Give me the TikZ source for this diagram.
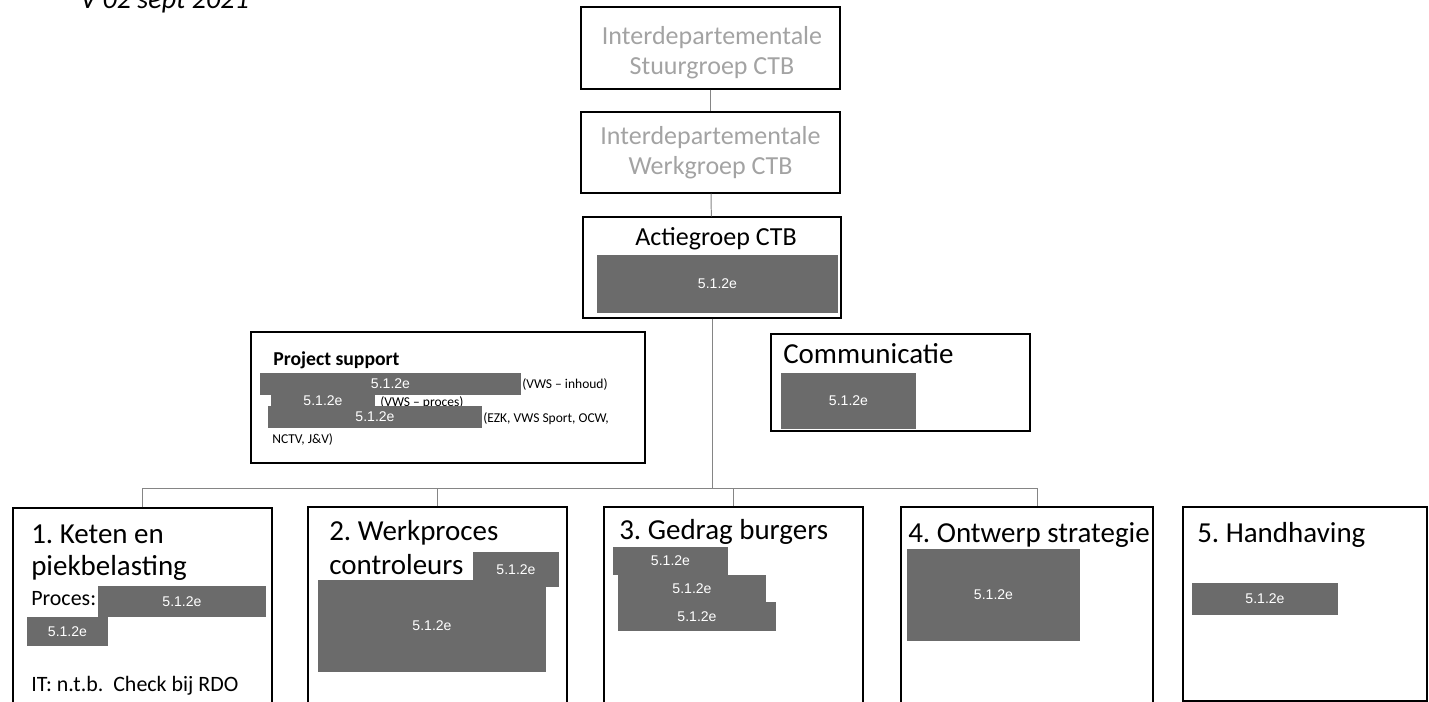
\documentclass[tikz,border=0pt]{standalone}
\usepackage{fontspec}
\setmainfont{Carlito}
\newfontfamily\redfont{Liberation Sans}
\definecolor{RedactGrey}{HTML}{6B6B6B}
\definecolor{PaleText}{HTML}{A3A3A3}
\definecolor{LinkGrey}{HTML}{858585}
\usetikzlibrary{positioning,fit}

\begin{document}
\frenchspacing
\begin{tikzpicture}[x=0.025cm,y=-0.025cm,
          wh/.style 2 args={minimum width=#1*0.025cm,minimum height=#2*0.025cm},
          box/.style={draw=black,line width=1pt,inner sep=0pt},
          topbox/.style={box,text=PaleText,align=center,
                         font=\fontsize{18.5}{21.5}\selectfont},
          redact/.style={fill=RedactGrey,inner sep=0pt,text=white,
                         font=\redfont\fontsize{10}{10}\selectfont},
          ttl/.style={anchor=base west,inner sep=0pt,
                      font=\fontsize{20.6}{23}\selectfont},
          note/.style={anchor=base west,inner sep=0pt,
                       font=\fontsize{15.6}{18}\selectfont},
          small/.style={anchor=base west,inner sep=0pt,
                        font=\fontsize{9.6}{11}\selectfont},
          link/.style={draw=LinkGrey,line width=0.7pt}]
        \useasboundingbox (0,0) rectangle (1429,702);
        \node[anchor=base west,inner sep=0pt,font=\itshape\fontsize{20}{22}\selectfont]
            (ver) at (80,9) {V 02 sept 2021};
        % top of the chain
        \node[box,wh={259}{82}] (stuur) at (710.5,48) {};
        \node[text=PaleText,align=center,inner sep=0pt,font=\fontsize{18.5}{21.5}\selectfont]
            (stuur-t) at (712,53) {Interdepartementale\\Stuurgroep CTB};
        \node[topbox,wh={259}{81}] (werk) at (710.5,152.5) {Interdepartementale\\Werkgroep CTB};
        \node[box,fit={(583,217) (841,318)}] (actie) {};
        \node[ttl,anchor=base,font=\fontsize{18.5}{21}\selectfont] (actie-t) at (716,245) {Actiegroep CTB};
        \node[redact,wh={241}{58}] (actie-r) at (717.5,284) {5.1.2e};
        % support and communication
        \node[box,fit={(251,332) (645,463)}] (ps) {};
        \node[anchor=base west,inner sep=0pt,font=\bfseries\fontsize{14}{16}\selectfont]
            (ps-t) at (273,365) {Project support};
        \node[redact,wh={261}{22}] (ps-r1) at (390.5,384) {5.1.2e};
        \node[small] (ps-a) at (522,388) {(VWS -- inhoud)};
        \node[redact,wh={104}{12}] (ps-r2) at (323,401) {5.1.2e};
        \node[small] (ps-b) at (380,406) {(VWS -- proces)};
        \node[redact,wh={214}{22}] (ps-r3) at (375,417) {5.1.2e};
        \node[small] (ps-c) at (483,422) {(EZK, VWS Sport, OCW,};
        \node[small] (ps-d) at (272,443) {NCTV, J\&V)};
        \node[box,fit={(771,334) (1030,431)}] (com) {};
        \node[ttl] (com-t) at (783,363) {Communicatie};
        \node[redact,wh={135}{56}] (com-r) at (848.5,401) {5.1.2e};
        % the five work streams
        \node[box,fit={(13,508) (272,720)}] (k1) {};
        \node[box,fit={(308,507) (567,720)}] (k2) {};
        \node[box,fit={(604,507) (863,720)}] (k3) {};
        \node[box,fit={(901,507) (1153,720)}] (k4) {};
        \node[box,fit={(1183,507) (1427,701)}] (k5) {};
        \node[ttl] (k1-t) at (31,543) {1. Keten en};
        \node[ttl] (k1-u) at (31,575) {piekbelasting};
        \node[note] (k1-p) at (31,605) {Proces:};
        \node[redact,wh={168}{31}] (k1-r1) at (182,601.5) {5.1.2e};
        \node[redact,wh={81}{29}] (k1-r2) at (67.5,631.5) {5.1.2e};
        \node[note] (k1-it) at (31,691) {IT: n.t.b.\ \ Check bij RDO};
        \node[ttl] (k2-t) at (329,540) {2. Werkproces};
        \node[ttl] (k2-u) at (329,574) {controleurs};
        \node[redact,wh={228}{92}] (k2-r2) at (432,626) {5.1.2e};
        \node[redact,wh={86}{35}] (k2-r1) at (516,569.5) {5.1.2e};
        \node[ttl] (k3-t) at (619,539) {3. Gedrag burgers};
        \node[redact,wh={115}{28}] (k3-r1) at (670.5,561) {5.1.2e};
        \node[redact,wh={148}{27}] (k3-r2) at (692,588.5) {5.1.2e};
        \node[redact,wh={158}{29}] (k3-r3) at (697,616.5) {5.1.2e};
        \node[ttl] (k4-t) at (908,542) {4. Ontwerp strategie};
        \node[redact,wh={173}{92}] (k4-r) at (993.5,595) {5.1.2e};
        \node[ttl] (k5-t) at (1197,542) {5. Handhaving};
        \node[redact,wh={146}{32}] (k5-r) at (1265,599) {5.1.2e};
        % connectors
        \coordinate (bus) at (712,488);
        \coordinate (busr) at (1037,488);
        \draw[link] (stuur) -- (werk);
        \draw[link] (werk) -- (actie);
        \draw[link] (actie.south) -- (bus);
        \draw[link] (k1.north) |- (busr) -- (busr |- k4.north);
        \draw[link] (k2.north) -- (k2.north |- bus);
        \draw[link] (k3.north) -- (k3.north |- bus);
      \end{tikzpicture}
\end{document}
